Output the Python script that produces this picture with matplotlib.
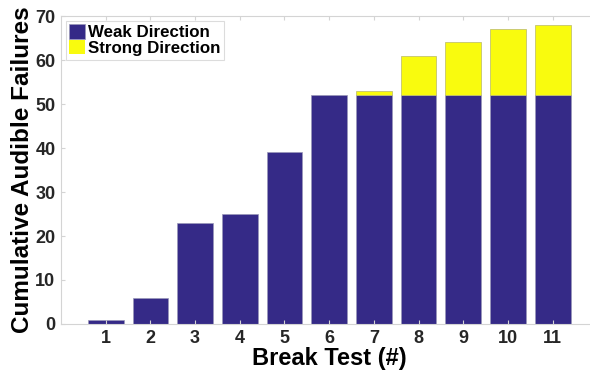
import matplotlib as mpl
mpl.use('Agg')
import matplotlib.pyplot as plt
import numpy as np

# data
tests = np.arange(1, 12)
weak = [1, 6, 23, 25, 39, 52, 52, 52, 52, 52, 52]
strong = [0, 0, 0, 0, 0, 0, 1, 9, 12, 15, 16]
labels = ['Weak Direction', 'Strong Direction']

plt.rcParams['font.family'] = ['Liberation Sans', 'DejaVu Sans']
plt.rcParams['font.weight'] = 'bold'

fig = plt.figure(figsize=(5.9, 3.73), dpi=100)
ax = fig.add_axes([61 / 590, 1 - 324 / 373, 536.4 / 590, 308 / 373])

ax.bar(tests, weak, width=0.8, color='#352a87', edgecolor='#9a98b8',
       linewidth=0.5, label=labels[0])
# no outline on empty strong segments
lw_strong = [0.5 if s > 0 else 0 for s in strong]
ax.bar(tests, strong, width=0.8, bottom=weak, color='#f9fb0e',
       edgecolor='#b8b86a', linewidth=lw_strong, label=labels[1])

ax.set_xlim(0, 12)
ax.set_ylim(0, 70)
ax.set_xticks(tests)
ax.set_yticks(np.arange(0, 71, 10))

for s in ax.spines.values():
    s.set_color('#d4d4d4')
    s.set_linewidth(0.8)
ax.tick_params(direction='in', length=3, color='#d4d4d4', labelsize=13,
               labelcolor='#262626', top=True, right=True, pad=4)
for t in ax.get_xticklabels() + ax.get_yticklabels():
    t.set_fontweight('bold')

ax.set_xlabel('Break Test (#)', fontsize=17, fontweight='bold', labelpad=0)
ax.set_ylabel('Cumulative Audible Failures', fontsize=17.5, fontweight='bold',
              labelpad=1)

leg = ax.legend(loc='upper left', fontsize=12.2, frameon=True, fancybox=False,
                borderpad=0.2, handlelength=0.9, handleheight=0.9,
                handletextpad=0.2, labelspacing=0.0, borderaxespad=0.3)
leg.get_frame().set_edgecolor('#d4d4d4')
leg.get_frame().set_linewidth(0.8)
for t in leg.get_texts():
    t.set_fontweight('bold')

fig.savefig('out.png', dpi=100)
